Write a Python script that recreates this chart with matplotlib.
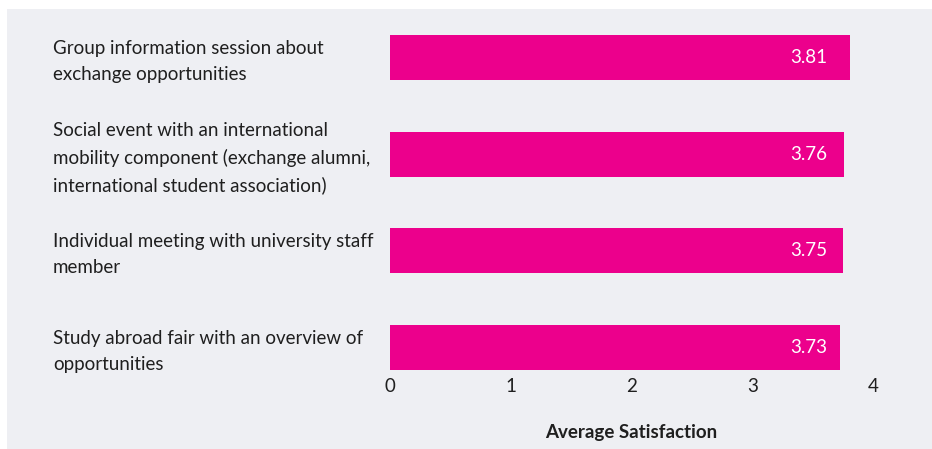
import matplotlib.pyplot as plt
from matplotlib.patches import Rectangle
from matplotlib.transforms import offset_copy, blended_transform_factory

plt.rcParams['font.family'] = ['Lato', 'DejaVu Sans']

# Data
activities = [
    "Group information session about\nexchange opportunities",
    "Social event with an international\nmobility component (exchange alumni,\ninternational student association)",
    "Individual meeting with university staff\nmember",
    "Study abroad fair with an overview of\nopportunities",
]
satisfaction = [3.81, 3.76, 3.75, 3.73]
x_ticks = [0, 1, 2, 3, 4]

BAR_COLOR = "#ec008c"
PANEL_COLOR = "#eeeff3"
TEXT_COLOR = "#1f1f1f"
FS = 13.5

W, H = 932, 449
fig = plt.figure(figsize=(W / 100, H / 100), dpi=100)
fig.patch.set_facecolor("white")

# grey panel behind the chart
fig.patches.append(Rectangle((7 / W, 0), 1 - 7 / W, 1 - 9 / H,
                             transform=fig.transFigure, facecolor=PANEL_COLOR,
                             edgecolor="none", zorder=-10))

left, right, top, bottom = 390, 873, 35, 370
ax = fig.add_axes([left / W, 1 - bottom / H, (right - left) / W, (bottom - top) / H])
ax.set_facecolor("none")

bar_h = 0.465
ypos = list(range(len(activities)))
ax.barh(ypos, satisfaction, height=bar_h, color=BAR_COLOR)
ax.set_ylim(len(activities) - 1 + bar_h / 2, -bar_h / 2)
ax.set_xlim(0, 4)

for sp in ax.spines.values():
    sp.set_visible(False)

ax.set_xticks(x_ticks)
ax.set_xticklabels([str(t) for t in x_ticks])
ax.tick_params(axis="x", length=0, pad=5.5, labelsize=FS, labelcolor=TEXT_COLOR)
ax.set_yticks([])

# category labels, left aligned in the panel, nudged a little below bar centre
tr = offset_copy(blended_transform_factory(fig.transFigure, ax.transData),
                 fig=fig, x=0, y=-4, units="dots")
for y, lab in zip(ypos, activities):
    ax.text(53 / W, y, lab, transform=tr, ha="left", va="center",
            fontsize=FS, color=TEXT_COLOR, linespacing=1.65, clip_on=False)

# value labels share a common right edge inside the shortest bar
x_val = min(satisfaction)
t = offset_copy(ax.transData, fig=fig, x=-13.5, y=0, units="dots")
for y, v in zip(ypos, satisfaction):
    ax.text(x_val, y, f"{v:.2f}", transform=t, ha="right", va="center",
            fontsize=FS, color="white")

ax.set_xlabel("Average Satisfaction", fontsize=FS, fontweight="bold",
              color=TEXT_COLOR, labelpad=21)

fig.savefig("out.png", dpi=100)
